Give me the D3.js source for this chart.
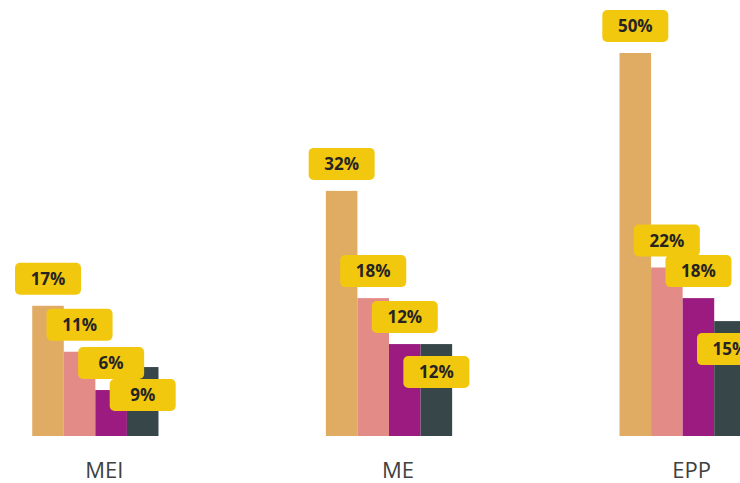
<!doctype html><html><head>
<style>
  body { margin: 0; background: #fff; }
  text { font-family: "Open Sans", "Noto Sans", sans-serif; }
</style>
</head><body><script src='https://d3js.org/d3.v7.min.js'></script>

<script>
  const categories = ["MEI", "ME", "EPP"];
  const series = ["s1", "s2", "s3", "s4"];
  const s1 = [17, 32, 50];
  const s2 = [11, 18, 22];
  const s3 = [6, 12, 18];
  const s4 = [9, 12, 15];
  const colors = ["#E0AC64", "#E38B87", "#9B1B80", "#374649"];

  const width = 740;
  const height = 483;
  const baseline = 436;

  const values = [s1, s2, s3, s4];
  const data = [];
  categories.forEach(function(c, ci) {
    series.forEach(function(s, si) {
      data.push({ cat: c, ser: s, si: si, v: values[si][ci] });
    });
  });

  var x = d3.scaleBand()
    .domain(categories)
    .range([-50, 828])
    .paddingInner(0.57)
    .paddingOuter(0.28);

  var xs = d3.scaleBand()
    .domain(series)
    .range([0, x.bandwidth()]);

  var y = d3.scaleLinear()
    .domain([0, 50])
    .range([baseline, 53]);

  var svg = d3.select("body")
    .append("svg")
    .attr("width", width)
    .attr("height", height);

  svg.selectAll("rect.bar")
    .data(data)
    .enter()
    .append("rect")
    .attr("class", "bar")
    .attr("x", function(d) { return x(d.cat) + xs(d.ser); })
    .attr("width", xs.bandwidth())
    .attr("y", function(d) { return y(d.v); })
    .attr("height", function(d) { return baseline - y(d.v); })
    .attr("fill", function(d) { return colors[d.si]; });

  // data labels: above bar, pushed inside if they hit the previous label
  const boxW = 66, boxH = 32, gap = 11;
  const placed = [];
  data.forEach(function(d) {
    var cx = x(d.cat) + xs(d.ser) + xs.bandwidth() / 2;
    var top = y(d.v) - gap - boxH;
    var prev = placed[placed.length - 1];
    if (prev && prev.cat === d.cat &&
        Math.abs(prev.cx - cx) < boxW && top < prev.top + boxH - 4 && top + boxH > prev.top) {
      top = y(d.v) + gap + 1;
    }
    placed.push({ cat: d.cat, cx: cx, top: top, v: d.v });
  });

  var lab = svg.selectAll("g.lab")
    .data(placed)
    .enter()
    .append("g")
    .attr("class", "lab")
    .attr("transform", function(d) { return "translate(" + d.cx + "," + d.top + ")"; });

  lab.append("rect")
    .attr("x", -boxW / 2)
    .attr("width", boxW)
    .attr("height", boxH)
    .attr("rx", 5)
    .attr("fill", "#F2C80F");

  lab.append("text")
    .attr("y", boxH / 2)
    .attr("dy", ".36em")
    .style("text-anchor", "middle")
    .attr("font-size", "17px")
    .attr("font-weight", "bold")
    .attr("fill", "#252423")
    .text(function(d) { return d.v + "%"; });

  svg.selectAll("text.cat")
    .data(categories)
    .enter()
    .append("text")
    .attr("class", "cat")
    .attr("x", function(d) { return x(d) + x.bandwidth() / 2 + 9; })
    .attr("y", 478)
    .style("text-anchor", "middle")
    .attr("font-size", "22px")
    .attr("fill", "#404040")
    .text(function(d) { return d; });
</script></body></html>
